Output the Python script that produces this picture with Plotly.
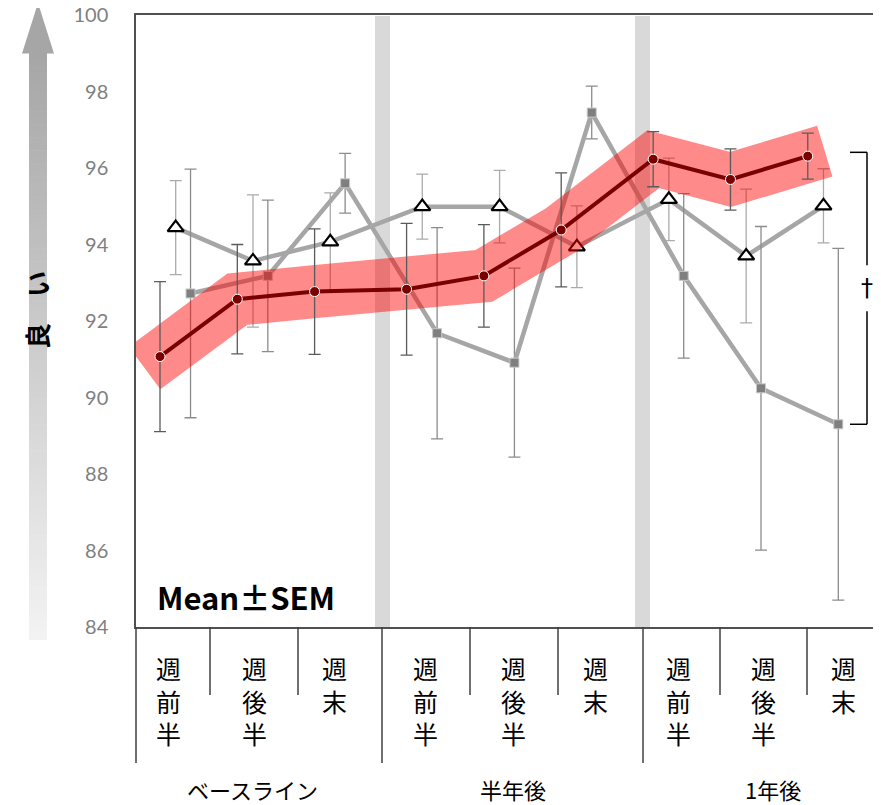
import plotly.graph_objects as go

# ---------------- data ----------------
groups = ["ベースライン", "半年後", "1年後"]
subcats = ["週前半", "週後半", "週末"]

red_mean = [91.07, 92.57, 92.77, 92.83, 93.18, 94.38, 96.23, 95.70, 96.31]
red_sem = [1.96, 1.43, 1.64, 1.72, 1.34, 1.49, 0.72, 0.80, 0.60]
tri_mean = [94.44, 93.57, 94.07, 94.99, 94.99, 93.94, 95.18, 93.70, 95.01]
tri_sem = [1.23, 1.73, 1.28, 0.85, 0.95, 1.07, 1.08, 1.75, 0.97]
sq_mean = [92.72, 93.18, 95.60, 91.68, 90.91, 97.45, 93.18, 90.24, 89.30]
sq_sem = [3.25, 1.98, 0.78, 2.76, 2.47, 0.69, 2.15, 4.23, 4.60]

y_ticks = [84, 86, 88, 90, 92, 94, 96, 98, 100]

# ---------------- layout helpers ----------------
OFF = 8                                     # page body margin
W, H = 881 - OFF, 805 - OFF
PL, PR, PT, PB = 136, 881, 15, 627          # plot area in window px
X0PX, XS = 160.0, 77.3                      # px of first point, px per category
GSTEP = 3.19                                # category units per group
XL = (PL - X0PX) / XS
XR = (PR - X0PX) / XS


def ux(px):
    return (px - X0PX) / XS


def xp(px):
    return (px - PL) / (PR - PL)


def yp(py):
    return (PB - py) / (PB - PT)


base = [g * GSTEP + j for g in range(len(groups)) for j in range(len(subcats))]
x_red = [b for b in base]
x_tri = [b + 0.203 for b in base]
x_sq = [b + 0.395 for b in base]

fig = go.Figure()

# gray triangle series
fig.add_trace(go.Scatter(
    x=x_tri, y=tri_mean, mode="lines+markers",
    line=dict(color="#a6a6a6", width=4.5),
    marker=dict(symbol="triangle-up", size=14, color="white",
                line=dict(color="black", width=2.2)),
    error_y=dict(type="data", array=tri_sem, color="#ababab",
                 thickness=1.3, width=6),
    hoverinfo="skip"))

# gray square series
fig.add_trace(go.Scatter(
    x=x_sq, y=sq_mean, mode="lines+markers",
    line=dict(color="#a6a6a6", width=4.5),
    marker=dict(symbol="square", size=9, color="#7f7f7f",
                line=dict(color="#c8c8c8", width=1)),
    error_y=dict(type="data", array=sq_sem, color="#8c8c8c",
                 thickness=1.3, width=6),
    hoverinfo="skip"))

# pink highlight band along red series (extended slightly past ends)
bx = [x_red[0] - 0.2 * (x_red[1] - x_red[0])] + x_red + \
     [x_red[-1] + 0.22 * (x_red[-1] - x_red[-2])]
by = [red_mean[0] - 0.2 * (red_mean[1] - red_mean[0])] + red_mean + \
     [red_mean[-1] + 0.22 * (red_mean[-1] - red_mean[-2])]
fig.add_trace(go.Scatter(
    x=bx, y=by, mode="lines",
    line=dict(color="rgba(255,0,0,0.46)", width=53),
    hoverinfo="skip"))

# red series
fig.add_trace(go.Scatter(
    x=x_red, y=red_mean, mode="lines+markers",
    line=dict(color="#7a0000", width=4),
    marker=dict(symbol="circle", size=10, color="#7a0000",
                line=dict(color="white", width=1)),
    error_y=dict(type="data", array=red_sem, color="#5a5a5a",
                 thickness=1.3, width=6),
    hoverinfo="skip"))

shapes = []
annotations = []

# gray separator bars
for cpx in [382.5, 642.5]:
    shapes.append(dict(type="rect", xref="x", yref="paper",
                       x0=ux(cpx - 7.5), x1=ux(cpx + 7.5), y0=0, y1=yp(16),
                       fillcolor="#d9d9d9", line=dict(width=0), layer="below"))

# category table dividers
div_px = [210, 298, 382, 470, 558, 643, 720, 807]
long_px = [382, 643]
for d in div_px:
    ybot = 763 if d in long_px else 695
    shapes.append(dict(type="line", xref="x", yref="paper",
                       x0=ux(d), x1=ux(d), y0=0, y1=yp(ybot),
                       line=dict(color="#404040", width=1.5)))
shapes.append(dict(type="line", xref="paper", yref="paper",
                   x0=0, x1=0, y0=0, y1=yp(763),
                   line=dict(color="#404040", width=1.5)))

# sub-category labels
lab_px = [168, 254, 334, 425, 513, 595, 678, 763, 843]
for i, lp in enumerate(lab_px):
    t = subcats[i % 3]
    annotations.append(dict(
        x=ux(lp), y=yp(648), xref="x", yref="paper",
        text="<br>".join(list(t)), showarrow=False,
        xanchor="center", yanchor="top",
        font=dict(family="Noto Sans CJK JP", size=25, color="black")))

# group labels
grp_px = [252, 513, 773]
for g, gp in zip(groups, grp_px):
    annotations.append(dict(
        x=ux(gp), y=yp(789), xref="x", yref="paper", text=g,
        showarrow=False, xanchor="center", yanchor="middle",
        font=dict(family="Noto Sans CJK JP", size=22, color="black")))

# Mean±SEM
annotations.append(dict(
    x=xp(155), y=yp(596), xref="paper", yref="paper", text="Mean±SEM",
    showarrow=False, xanchor="left", yanchor="middle",
    font=dict(family="Noto Sans CJK JP", size=31, color="black", weight="bold")))

# significance bracket
bxv = ux(867)
bxl = ux(850)
ytop = red_mean[-1] + 0.1
ybot = sq_mean[-1]
ymid = (ytop + ybot) / 2
gap = 0.6
for (a, b) in [(ytop, ymid + gap), (ymid - gap, ybot)]:
    shapes.append(dict(type="line", xref="x", yref="y", x0=bxv, x1=bxv,
                       y0=a, y1=b, line=dict(color="black", width=1.5)))
for yy in [ytop, ybot]:
    shapes.append(dict(type="line", xref="x", yref="y", x0=bxl, x1=bxv,
                       y0=yy, y1=yy, line=dict(color="black", width=1.5)))
annotations.append(dict(x=bxv, y=ymid, xref="x", yref="y", text="†",
                        showarrow=False, xanchor="center", yanchor="middle",
                        font=dict(family="DejaVu Sans", size=24, color="black")))

# gradient arrow at left
top_y, bot_y = 53, 640
n = 90
c_top, c_bot = 166, 243
for k in range(n):
    y0 = top_y + (bot_y - top_y) * k / n
    y1 = top_y + (bot_y - top_y) * (k + 1) / n
    c = int(round(c_top + (c_bot - c_top) * (k + 0.5) / n))
    shapes.append(dict(type="rect", xref="paper", yref="paper",
                       x0=xp(29), x1=xp(47), y0=yp(y1), y1=yp(y0 - 0.6),
                       fillcolor=f"rgb({c},{c},{c})", line=dict(width=0),
                       layer="below"))
shapes.append(dict(type="path", xref="paper", yref="paper",
                   path=f"M {xp(22)},{yp(53.5)} L {xp(54)},{yp(53.5)} L {xp(38)},{yp(3)} Z",
                   fillcolor="rgb(166,166,166)", line=dict(width=0), layer="below"))

annotations.append(dict(
    x=xp(37), y=yp(310), xref="paper", yref="paper", text="良\u3000い",
    showarrow=False, textangle=-90, xanchor="center", yanchor="middle",
    font=dict(family="Noto Sans CJK JP", size=26, color="black", weight="bold")))

fig.update_layout(
    width=W, height=H,
    margin=dict(l=PL - OFF, r=881 - PR, t=PT - OFF, b=805 - PB),
    plot_bgcolor="white", paper_bgcolor="white",
    showlegend=False,
    shapes=shapes, annotations=annotations,
    xaxis=dict(range=[XL, XR], showgrid=False, zeroline=False,
               showticklabels=False, ticks="", showline=True,
               linecolor="#505050", linewidth=1.8, mirror=True,
               automargin=False, fixedrange=True),
    yaxis=dict(range=[84, 100], tickvals=y_ticks,
               ticktext=[str(v) for v in y_ticks],
               showgrid=False, zeroline=False, ticks="",
               showline=True, linecolor="#505050", linewidth=1.5,
               tickfont=dict(family="Lato", size=20, color="#7f7f7f"),
               ticklabelstandoff=22, ticklabeloverflow="allow",
               automargin=False, fixedrange=True),
)

fig.write_html("out.html")
